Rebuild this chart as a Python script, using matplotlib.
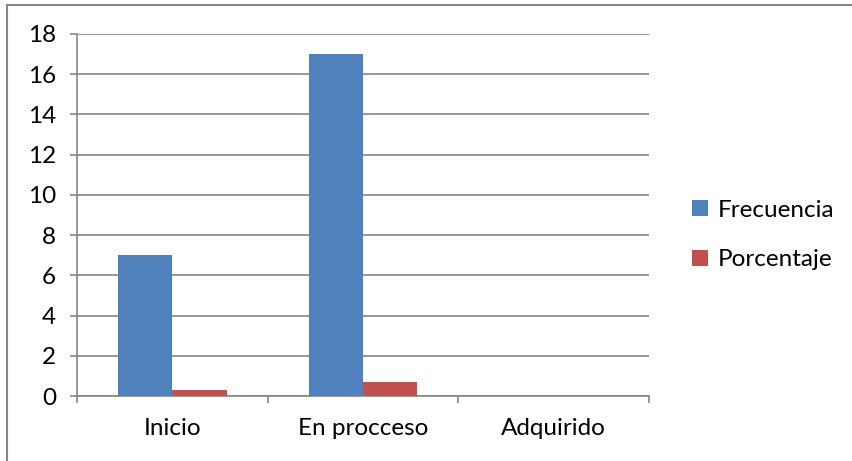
import matplotlib.pyplot as plt
import numpy as np
from matplotlib.lines import Line2D

categorias = ['Inicio', 'En procceso', 'Adquirido']
frecuencia = [7, 17, 0]
porcentaje = [0.29, 0.71, 0]

plt.rcParams['font.family'] = ['Lato', 'DejaVu Sans']

W, H = 853, 461
fig = plt.figure(figsize=(W / 100, H / 100), dpi=100)
ax = fig.add_axes([77 / W, 65 / H, (649 - 77) / W, (396 - 34) / H])

x = np.arange(len(categorias))
ancho = 1 / 3.5
ax.bar(x - ancho / 2, frecuencia, ancho, color='#4F81BD', label='Frecuencia', zorder=3)
ax.bar(x + ancho / 2, porcentaje, ancho, color='#C0504D', label='Porcentaje', zorder=3)

ax.set_xlim(-0.5, len(categorias) - 0.5)
ax.set_ylim(0, 18)
ax.set_yticks(range(0, 19, 2))
ax.yaxis.grid(True, color='#868686', linewidth=1.2, zorder=0)

gris = '#868686'
for lado in ['top', 'right']:
    ax.spines[lado].set_visible(False)
for lado in ['left', 'bottom']:
    ax.spines[lado].set_color(gris)
    ax.spines[lado].set_linewidth(1.2)

ax.set_xticks(x)
ax.set_xticklabels(categorias)
ax.set_xticks(np.arange(-0.5, len(categorias)), minor=True)
ax.tick_params(axis='x', which='major', length=0, pad=16, labelsize=17.5)
ax.tick_params(axis='x', which='minor', length=5, width=1.2, color=gris)
ax.tick_params(axis='y', length=5, width=1.2, color=gris, pad=10, labelsize=17.5)

ax.legend(loc='center left', bbox_to_anchor=(1.075, 0.445), frameon=False,
          fontsize=17.5, handlelength=0.65, handleheight=0.65, handletextpad=0.4,
          labelspacing=1.18, borderpad=0, borderaxespad=0)

# marco del grafico (solo se ven los bordes izquierdo y superior)
fig.add_artist(Line2D([7.5 / W, 7.5 / W], [0, 1 - 5 / H], color=gris, linewidth=1.5))
fig.add_artist(Line2D([7.5 / W, 1], [1 - 5 / H, 1 - 5 / H], color=gris, linewidth=1.5))

plt.savefig('out.png', dpi=100)
